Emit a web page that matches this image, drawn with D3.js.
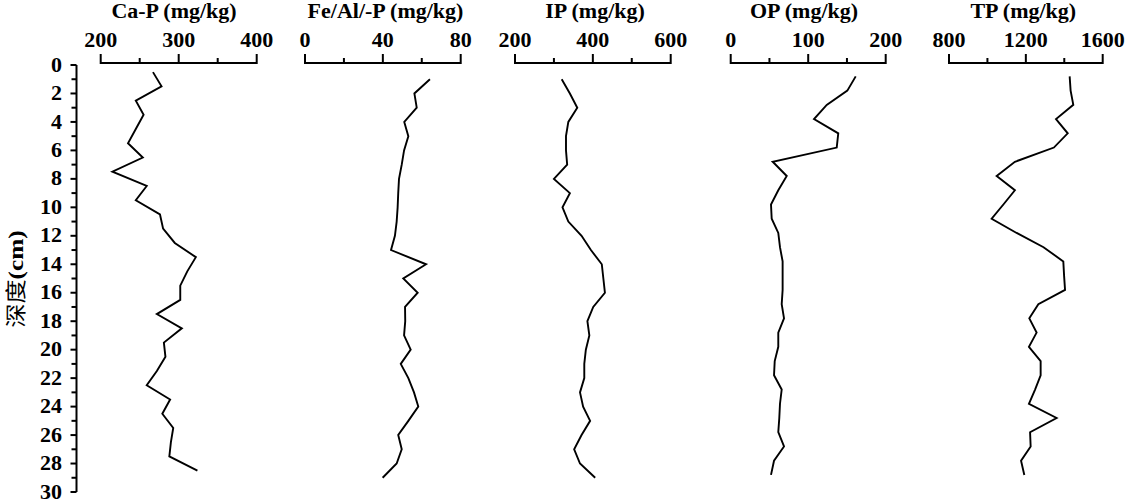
<!DOCTYPE html>
<html>
<head>
<meta charset="utf-8">
<script src="https://cdn.jsdelivr.net/npm/d3@7"></script>
<style>
  html, body { margin: 0; padding: 0; background: #fff; }
  svg { display: block; }
  text { font-family: "Liberation Serif", "Times New Roman", serif; fill: #000; }
</style>
</head>
<body>
<svg id="chart" width="1126" height="502"></svg>
<script>
// ---- data ----
const titles = ["Ca-P (mg/kg)", "Fe/Al/-P (mg/kg)", "IP (mg/kg)", "OP (mg/kg)", "TP (mg/kg)"];
const domains = [[200, 400], [0, 80], [200, 600], [0, 200], [800, 1600]];
const majorTicks = [[200, 300, 400], [0, 40, 80], [200, 400, 600], [0, 100, 200], [800, 1200, 1600]];
const minorTicks = [[250, 350], [20, 60], [300, 500], [50, 150], [1000, 1400]];
const depthLabels = [0, 2, 4, 6, 8, 10, 12, 14, 16, 18, 20, 22, 24, 26, 28, 30];
const depthMinor = [1, 3, 5, 7, 9, 11, 13, 15, 17, 19, 21, 23, 25, 27, 29];

const depthCaP = [0.5, 1.5, 2.5, 3.5, 4.5, 5.5, 6.5, 7.5, 8.5, 9.5, 10.5, 11.5, 12.5, 13.5, 14.5,
  15.5, 16.5, 17.5, 18.5, 19.5, 20.5, 21.5, 22.5, 23.5, 24.5, 25.5, 26.5, 27.5, 28.5];
const depthFeIP = [1, 2, 3, 4, 5, 6, 7, 8, 9, 10, 11, 12, 13, 14, 15,
  16, 17, 18, 19, 20, 21, 22, 23, 24, 25, 26, 27, 28, 29];
const depthOPTP = [0.8, 1.8, 2.8, 3.8, 4.8, 5.8, 6.8, 7.8, 8.8, 9.8, 10.8, 11.8, 12.8, 13.8, 14.8,
  15.8, 16.8, 17.8, 18.8, 19.8, 20.8, 21.8, 22.8, 23.8, 24.8, 25.8, 26.8, 27.8, 28.8];

const caP = [267, 278, 245, 255, 245, 235, 254, 215, 259, 245, 276, 280, 295, 322, 311,
  302, 302, 272, 304, 281, 283, 272, 259, 289, 279, 293, 290, 288, 324];
const feAlP = [64.2, 56.2, 57.4, 51.0, 53.1, 50.9, 49.7, 48.3, 47.9, 47.6, 47.1, 46.2, 44.2, 62.2, 50.5,
  57.9, 51.4, 51.5, 50.9, 54.3, 49.2, 53.1, 56.0, 58.2, 53.1, 47.9, 49.7, 47.1, 39.9];
const ip = [320, 341, 360, 337, 331, 331, 334, 300, 341, 322, 337, 371, 395, 423, 427,
  431, 401, 386, 391, 382, 378, 378, 367, 375, 393, 371, 352, 367, 406];
const op = [161.3, 150.5, 123.9, 107.5, 138.8, 136.8, 54.2, 72.3, 61.4, 52.0, 52.9, 61.4, 63.6, 67, 67,
  67, 65.8, 68.8, 61.4, 61.4, 56.8, 55.9, 65.8, 63.6, 62.7, 61.4, 68.8, 55.9, 52.0];
const tp = [1428, 1433, 1447, 1357, 1418, 1346, 1143, 1048, 1143, 1083, 1022, 1152, 1292, 1395, 1399,
  1404, 1265, 1218, 1256, 1216, 1277, 1277, 1248, 1216, 1360, 1222, 1225, 1175, 1192];

const seriesValues = [caP, feAlP, ip, op, tp];
const seriesDepths = [depthCaP, depthFeIP, depthFeIP, depthOPTP, depthOPTP];

// ---- layout ----
const panelX = [[100.7, 256.7], [305, 460.7], [515, 670.7], [730.7, 885.7], [949, 1102.7]];
const titleCX = [174, 385.5, 595, 804, 1023.3];
const topAxisY = 63;
const yAxisX = 76.5;
const SX = 1.1; // horizontal glyph stretch seen in the reference

const svg = d3.select("#chart");
const y = d3.scaleLinear().domain([0, 30]).range([65, 492]);

function label(sel, x, yy, anchor, size, txt) {
  return sel.append("text")
    .attr("transform", `translate(${x},${yy}) scale(${SX},1)`)
    .attr("text-anchor", anchor).attr("font-size", size)
    .attr("font-weight", "bold").text(txt);
}

// Y axis
const gy = svg.append("g").attr("transform", `translate(${yAxisX},0)`);
gy.append("line").attr("x1", 0).attr("x2", 0).attr("y1", y(0)).attr("y2", y(30))
  .attr("stroke", "#000").attr("stroke-width", 2);
gy.selectAll("line.maj").data(depthLabels).join("line").attr("class", "maj")
  .attr("x1", -6).attr("x2", 0).attr("y1", d => y(d)).attr("y2", d => y(d))
  .attr("stroke", "#000").attr("stroke-width", 2);
gy.selectAll("line.min").data(depthMinor).join("line").attr("class", "min")
  .attr("x1", -5).attr("x2", 0).attr("y1", d => y(d)).attr("y2", d => y(d))
  .attr("stroke", "#000").attr("stroke-width", 2);
depthLabels.forEach(d => {
  label(svg, 62, y(d) + 6.6, "end", 20, d);
});

// Y title
const yt = svg.append("text")
  .attr("transform", "translate(23,279) rotate(-90) scale(1.15,1)")
  .attr("text-anchor", "middle").attr("font-size", 21);
yt.append("tspan").attr("font-family", "'Noto Sans CJK SC', sans-serif").text("深度");
yt.append("tspan").attr("font-family", "'Liberation Serif', serif").attr("font-weight", "bold")
  .attr("font-size", 22).text("(cm)");

// Panels
titles.forEach((title, i) => {
  const x = d3.scaleLinear().domain(domains[i]).range(panelX[i]);
  const g = svg.append("g");
  g.append("line").attr("x1", x.range()[0]).attr("x2", x.range()[1])
    .attr("y1", topAxisY).attr("y2", topAxisY)
    .attr("stroke", "#000").attr("stroke-width", 2);
  g.selectAll("line.maj").data(majorTicks[i]).join("line").attr("class", "maj")
    .attr("x1", d => x(d)).attr("x2", d => x(d))
    .attr("y1", topAxisY - 9).attr("y2", topAxisY + 1)
    .attr("stroke", "#000").attr("stroke-width", 2);
  g.selectAll("line.min").data(minorTicks[i]).join("line").attr("class", "min")
    .attr("x1", d => x(d)).attr("x2", d => x(d))
    .attr("y1", topAxisY - 5).attr("y2", topAxisY + 1)
    .attr("stroke", "#000").attr("stroke-width", 2);
  majorTicks[i].forEach(t => label(g, x(t), 47, "middle", 20, t));
  label(g, titleCX[i], 17.5, "middle", 20, title);

  const pts = seriesValues[i].map((v, k) => [v, seriesDepths[i][k]]);
  const line = d3.line().x(d => x(d[0])).y(d => y(d[1]));
  g.append("path").datum(pts).attr("d", line)
    .attr("fill", "none").attr("stroke", "#000").attr("stroke-width", 1.9)
    .attr("stroke-linejoin", "miter");
});
</script>
</body>
</html>
